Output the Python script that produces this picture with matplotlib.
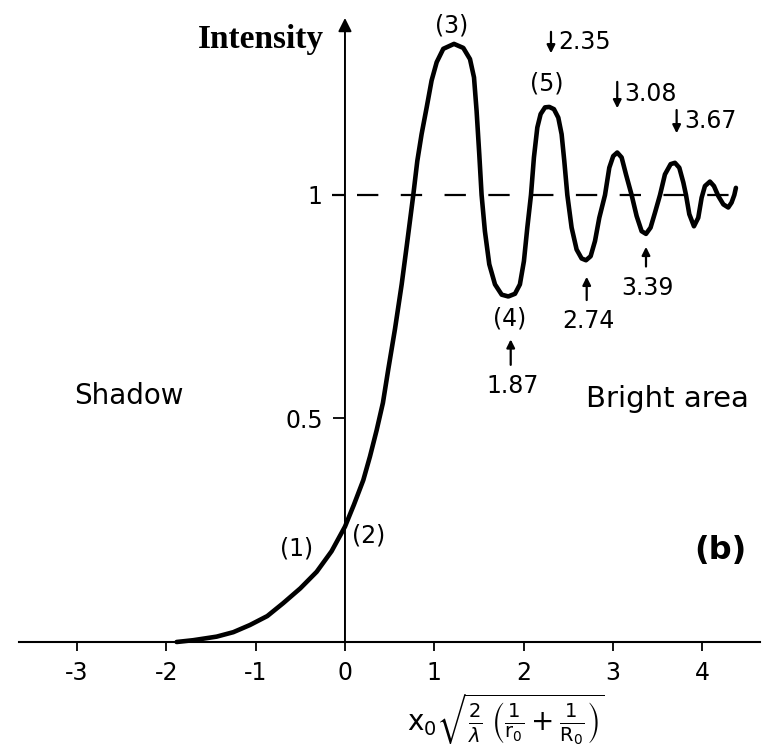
import matplotlib
matplotlib.use("Agg")
import matplotlib.pyplot as plt

# Intensity curve (x in units of the axis, y = intensity)
pos = [-1.885, -1.70, -1.437, -1.25, -1.064, -0.87, -0.691, -0.50, -0.317, -0.15,
       0.0, 0.10, 0.205, 0.28, 0.355, 0.425, 0.485, 0.560, 0.635, 0.691,
       0.765, 0.810, 0.858, 0.915, 0.970, 1.027, 1.101, 1.221, 1.325, 1.400,
       1.445, 1.474, 1.504, 1.530, 1.567, 1.616, 1.680, 1.755, 1.829, 1.904,
       1.959, 2.004, 2.042, 2.083, 2.116, 2.154, 2.191, 2.240, 2.288, 2.340,
       2.389, 2.426, 2.456, 2.490, 2.538, 2.594, 2.650, 2.699, 2.751, 2.800,
       2.848, 2.912, 2.960, 3.004, 3.049, 3.098, 3.147, 3.210, 3.266, 3.322,
       3.371, 3.422, 3.471, 3.528, 3.583, 3.647, 3.695, 3.744, 3.789, 3.819,
       3.856, 3.908, 3.956, 3.994, 4.031, 4.087, 4.132, 4.180, 4.237, 4.292,
       4.329, 4.360, 4.378]
intensity = [0.0, 0.004, 0.012, 0.022, 0.038, 0.058, 0.087, 0.120, 0.157, 0.203,
             0.258, 0.307, 0.362, 0.415, 0.474, 0.535, 0.610, 0.700, 0.800, 0.885,
             1.0, 1.076, 1.136, 1.196, 1.256, 1.297, 1.327, 1.338, 1.329, 1.304,
             1.263, 1.188, 1.091, 1.0, 0.919, 0.845, 0.800, 0.777, 0.773, 0.779,
             0.800, 0.852, 0.927, 1.0, 1.084, 1.151, 1.181, 1.196, 1.197, 1.192,
             1.173, 1.136, 1.076, 1.0, 0.927, 0.878, 0.858, 0.854, 0.863, 0.897,
             0.949, 1.0, 1.061, 1.087, 1.095, 1.084, 1.046, 1.0, 0.953, 0.919,
             0.913, 0.927, 0.960, 1.0, 1.046, 1.069, 1.072, 1.061, 1.028, 1.0,
             0.957, 0.930, 0.949, 0.994, 1.020, 1.030, 1.020, 0.998, 0.979, 0.972,
             0.983, 1.0, 1.016]

x_ticks = [-3, -2, -1, 0, 1, 2, 3, 4]
y_ticks = [0.5, 1]
y_tick_labels = ['0.5', '1']

# marked extrema: label, x of arrow, arrow from y, arrow to y
marks_down = [('2.35', 2.307, 1.365, 1.317), ('3.08', 3.049, 1.253, 1.194),
              ('3.67', 3.714, 1.190, 1.138)]
marks_up = [('1.87', 1.856, 0.620, 0.677), ('2.74', 2.707, 0.765, 0.817),
            ('3.39', 3.371, 0.840, 0.884)]

plt.rcParams['mathtext.fontset'] = 'dejavusans'

fig = plt.figure(figsize=(7.67, 7.55), dpi=100)
ax = fig.add_axes([0, 0, 1, 1])
ax.set_xlim(-3.863, 4.726)
ax.set_ylim(-0.2528, 1.4362)

for s in ['top', 'right', 'left']:
    ax.spines[s].set_visible(False)
ax.spines['left'].set_position(('data', 0))
ax.spines['bottom'].set_position(('data', 0))
ax.spines['bottom'].set_bounds(-3.65, 4.65)
ax.spines['bottom'].set_linewidth(1.5)

ax.set_xticks(x_ticks)
ax.set_xticklabels([str(t) for t in x_ticks])
ax.set_yticks(y_ticks)
ax.set_yticklabels(y_tick_labels)
ax.tick_params(axis='x', direction='out', length=6.5, width=1.3, pad=7, labelsize=17)
ax.tick_params(axis='y', direction='out', length=9, width=1.3, pad=7, labelsize=17)

# vertical axis with arrow
ax.annotate('', xy=(0, 1.396), xytext=(0, 0),
            arrowprops=dict(arrowstyle='-|>', lw=1.4, color='black',
                            mutation_scale=20, shrinkA=0, shrinkB=0))

# dashed reference level
ax.hlines(1, -0.15, 0.0, colors='black', lw=1.6)
ax.hlines(1, 0.134, 4.46, colors='black', lw=1.6, linestyles=(0, (9.6, 10.1)))

# curve
ax.plot(pos, intensity, color='black', lw=3.3, solid_joinstyle='round',
        solid_capstyle='round')

fs = 17
ax.text(1.195, 1.380, '(3)', fontsize=fs, ha='center', va='center')
ax.text(2.259, 1.250, '(5)', fontsize=fs, ha='center', va='center')
ax.text(1.840, 0.724, '(4)', fontsize=fs, ha='center', va='center')
ax.text(-0.541, 0.210, '(1)', fontsize=fs, ha='center', va='center')
ax.text(0.261, 0.239, '(2)', fontsize=fs, ha='center', va='center')

for lab, x, y0, y1 in marks_down:
    ax.annotate('', xy=(x, y1), xytext=(x, y0),
                arrowprops=dict(arrowstyle='-|>', lw=1.6, color='black',
                                mutation_scale=12, shrinkA=0, shrinkB=0))
    ax.text(x + 0.08, (y0 + y1) / 2 + 0.002, lab, fontsize=fs, ha='left', va='center')

for lab, x, y0, y1 in marks_up:
    ax.annotate('', xy=(x, y1), xytext=(x, y0),
                arrowprops=dict(arrowstyle='-|>', lw=1.6, color='black',
                                mutation_scale=12, shrinkA=0, shrinkB=0))
    ax.text(x + 0.02, y0 - 0.047, lab, fontsize=fs, ha='center', va='center')

ax.text(-2.419, 0.550, 'Shadow', fontsize=20, ha='center', va='center')
ax.text(3.611, 0.544, 'Bright area', fontsize=21, ha='center', va='center')
ax.text(4.199, 0.204, '(b)', fontsize=23, fontweight='bold', ha='center', va='center')
ax.text(-0.235, 1.347, 'Intensity', fontsize=24, fontweight='bold',
        family='Liberation Serif', ha='right', va='center')

ax.text(1.80, -0.110,
        r'$\mathrm{x}_0\sqrt{\frac{2}{\lambda}\;\left(\frac{1}{\mathrm{r}_0}+\frac{1}{\mathrm{R}_0}\right)}$',
        fontsize=20, ha='center', va='top')

fig.savefig('out.png', dpi=100)
